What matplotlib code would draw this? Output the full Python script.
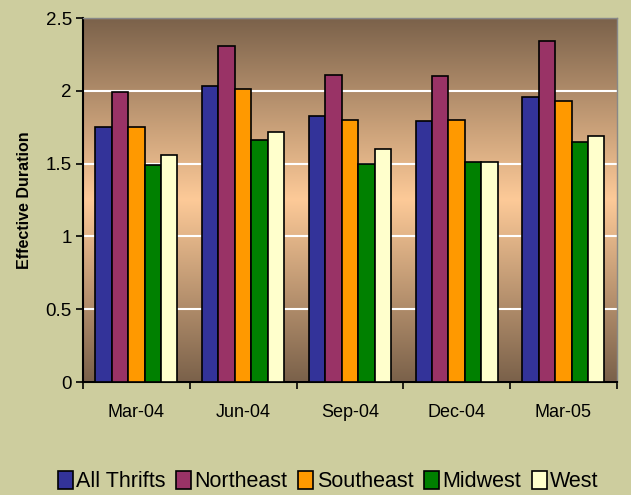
import numpy as np
import matplotlib.pyplot as plt
from matplotlib.colors import LinearSegmentedColormap

plt.rcParams['font.family'] = ['Liberation Sans', 'DejaVu Sans']

# Effective duration by region
quarters = ['Mar-04', 'Jun-04', 'Sep-04', 'Dec-04', 'Mar-05']
all_thrifts = [1.75, 2.03, 1.83, 1.79, 1.96]
northeast = [1.99, 2.31, 2.11, 2.10, 2.34]
southeast = [1.75, 2.01, 1.80, 1.80, 1.93]
midwest = [1.49, 1.66, 1.50, 1.51, 1.65]
west = [1.56, 1.72, 1.60, 1.51, 1.69]

series = [('All Thrifts', all_thrifts, '#333399'),
          ('Northeast', northeast, '#993366'),
          ('Southeast', southeast, '#ff9900'),
          ('Midwest', midwest, '#008000'),
          ('West', west, '#ffffcc')]

fig = plt.figure(figsize=(6.31, 4.95), dpi=100, facecolor='#cdcd9e')
ax = fig.add_axes([0.1315, 0.228, 0.846, 0.7356])

# fondo degradado: oscuro arriba y abajo, claro al centro
cmap = LinearSegmentedColormap.from_list('bg', ['#7a614a', '#fdca98', '#7a614a'])
grad = np.linspace(0, 1, 256).reshape(-1, 1)
ax.imshow(grad, cmap=cmap, extent=[0, 1, 0, 1], transform=ax.transAxes,
          aspect='auto', zorder=0)

n = len(series)
bw = 1 / (n + 1.5)
x = np.arange(len(quarters))
for i, (name, vals, col) in enumerate(series):
    ax.bar(x + (i - (n - 1) / 2) * bw, vals, bw, color=col, edgecolor='black',
           linewidth=1.2, label=name, zorder=3)

ax.set_xlim(-0.5, len(quarters) - 0.5)
ax.set_ylim(0, 2.5)
ax.set_yticks([0, 0.5, 1, 1.5, 2, 2.5])
ax.set_yticklabels(['0', '0.5', '1', '1.5', '2', '2.5'])
ax.yaxis.grid(True, color='white', linewidth=1.5, zorder=1)
ax.set_axisbelow(True)

ax.set_xticks(x)
ax.set_xticklabels(quarters)
ax.set_xticks(np.arange(-0.5, len(quarters)), minor=True)
ax.tick_params(axis='x', which='major', length=0, pad=16, labelsize=13)
ax.tick_params(axis='x', which='minor', length=5, width=1.2, direction='out')
ax.tick_params(axis='y', length=5, width=1.2, labelsize=13.5, pad=3)

for s in ['left', 'bottom']:
    ax.spines[s].set_color('black')
    ax.spines[s].set_linewidth(1.5)
for s in ['top', 'right']:
    ax.spines[s].set_color('#888888')
    ax.spines[s].set_linewidth(1)

ax.set_ylabel('Effective Duration', fontsize=11.5, fontweight='bold', labelpad=10)

fig.legend(loc='center', bbox_to_anchor=(0.52, 0.027), ncol=5, frameon=False,
           fontsize=15.5, handlelength=0.7, handleheight=0.9, handletextpad=0.15,
           columnspacing=0.5, borderaxespad=0)

fig.savefig('out.png', dpi=100, facecolor=fig.get_facecolor())
